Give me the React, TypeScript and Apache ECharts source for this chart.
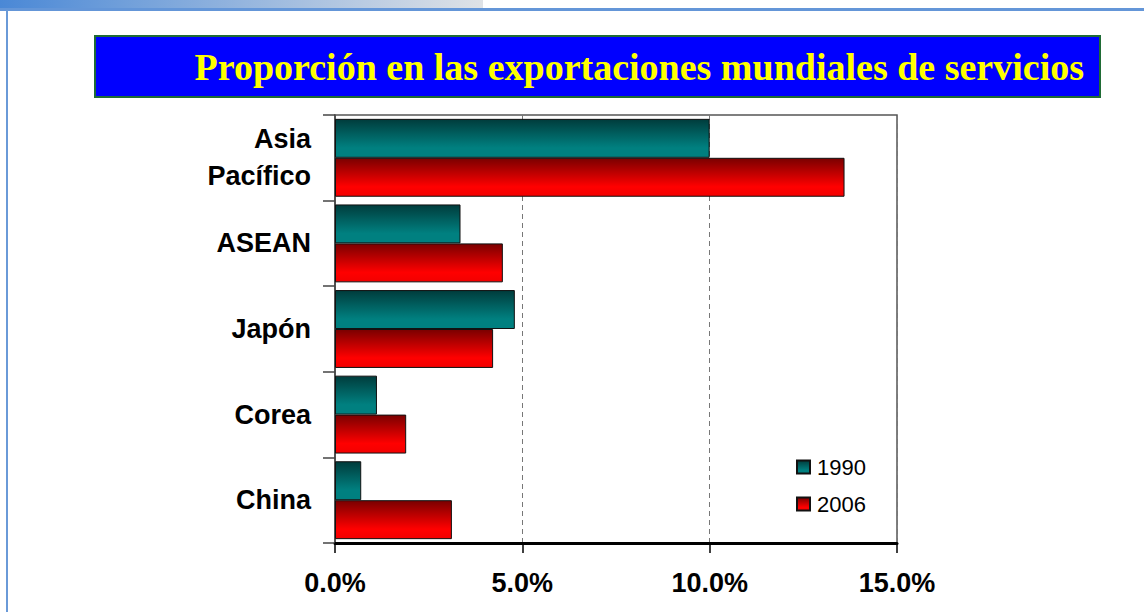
import React, { useEffect, useRef } from "react";
import * as echarts from "echarts";

const categories = ["Asia\nPacífico", "ASEAN", "Japón", "Corea", "China"];
const values1990 = [10.0, 3.35, 4.8, 1.12, 0.7];
const values2006 = [13.6, 4.48, 4.22, 1.9, 3.12];
const seriesNames = ["1990", "2006"];
const xTicks = [0, 5, 10, 15];
const titleText = "Proporción en las exportaciones mundiales de servicios";

const tealGrad = new echarts.graphic.LinearGradient(0, 0, 0, 1, [
  { offset: 0, color: "#003c3c" },
  { offset: 0.75, color: "#008080" },
  { offset: 1, color: "#008080" },
]);
const redGrad = new echarts.graphic.LinearGradient(0, 0, 0, 1, [
  { offset: 0, color: "#7a0000" },
  { offset: 0.75, color: "#ff0000" },
  { offset: 1, color: "#f20000" },
]);

export default function App() {
  const ref = useRef<HTMLDivElement>(null);
  useEffect(() => {
    document.body.style.margin = "0";
    const chart = echarts.init(ref.current!, null, { renderer: "svg" });
    chart.setOption({
      animation: false,
      backgroundColor: "#ffffff",
      graphic: [
        {
          type: "rect",
          shape: { x: 0, y: 0, width: 483, height: 8 },
          style: {
            fill: new echarts.graphic.LinearGradient(0, 0, 1, 0, [
              { offset: 0, color: "#4a88d6" },
              { offset: 1, color: "#dfe2e6" },
            ]),
          },
          silent: true,
        },
        {
          type: "rect",
          shape: { x: 0, y: 8, width: 1144, height: 3 },
          style: { fill: "#6496d8" },
          silent: true,
        },
        {
          type: "rect",
          shape: { x: 6, y: 10, width: 2, height: 602 },
          style: { fill: "#6a9ad8" },
          silent: true,
        },
        {
          type: "rect",
          shape: { x: 95, y: 36, width: 1005, height: 61 },
          style: { fill: "#0000ff", stroke: "#1f6b35", lineWidth: 2 },
          silent: true,
        },
        {
          type: "text",
          x: 1084,
          y: 67,
          style: {
            text: titleText,
            fill: "#ffff00",
            font: "bold 38px 'Liberation Serif', 'Times New Roman', serif",
            align: "right",
            verticalAlign: "middle",
          },
          silent: true,
        },
      ],
      legend: {
        orient: "vertical",
        left: 791,
        top: 451,
        itemWidth: 13,
        itemHeight: 13,
        itemGap: 15,
        icon: "rect",
        data: seriesNames,
        textStyle: {
          fontFamily: "'Liberation Sans', Arial, sans-serif",
          fontSize: 22,
          color: "#000",
          padding: [0, 0, 0, 2],
        },
      },
      grid: {
        left: 335,
        top: 115,
        width: 562,
        height: 428,
        show: true,
        borderColor: "#555",
        borderWidth: 1.5,
        backgroundColor: "transparent",
      },
      xAxis: {
        type: "value",
        min: xTicks[0],
        max: xTicks[xTicks.length - 1],
        interval: 5,
        axisLine: { show: true, lineStyle: { color: "#000", width: 3 } },
        axisTick: { show: true, length: 10, lineStyle: { color: "#000", width: 1.5 } },
        splitLine: { show: true, lineStyle: { color: "#777", type: [5, 4], width: 1 } },
        axisLabel: {
          formatter: (v: number) => v.toFixed(1) + "%",
          fontFamily: "'Liberation Sans', Arial, sans-serif",
          fontWeight: "bold",
          fontSize: 27,
          color: "#000",
          margin: 26,
        },
      },
      yAxis: {
        type: "category",
        inverse: true,
        data: categories,
        axisLine: { show: true, lineStyle: { color: "#444", width: 1.5 } },
        axisTick: { show: true, length: 12, lineStyle: { color: "#444", width: 1.5 } },
        axisLabel: {
          fontFamily: "'Liberation Sans', Arial, sans-serif",
          fontWeight: "bold",
          fontSize: 27,
          lineHeight: 37,
          color: "#000",
          margin: 24,
          align: "right",
        },
      },
      series: [
        {
          name: seriesNames[0],
          type: "bar",
          data: values1990,
          barGap: "0%",
          barCategoryGap: "9%",
          itemStyle: { color: tealGrad, borderColor: "#111", borderWidth: 1 },
        },
        {
          name: seriesNames[1],
          type: "bar",
          data: values2006,
          barGap: "0%",
          barCategoryGap: "9%",
          itemStyle: { color: redGrad, borderColor: "#111", borderWidth: 1 },
        },
      ],
    });
    return () => chart.dispose();
  }, []);
  return (
    <div
      ref={ref}
      style={{ position: "absolute", left: 0, top: 0, width: 1144, height: 612 }}
    />
  );
}
